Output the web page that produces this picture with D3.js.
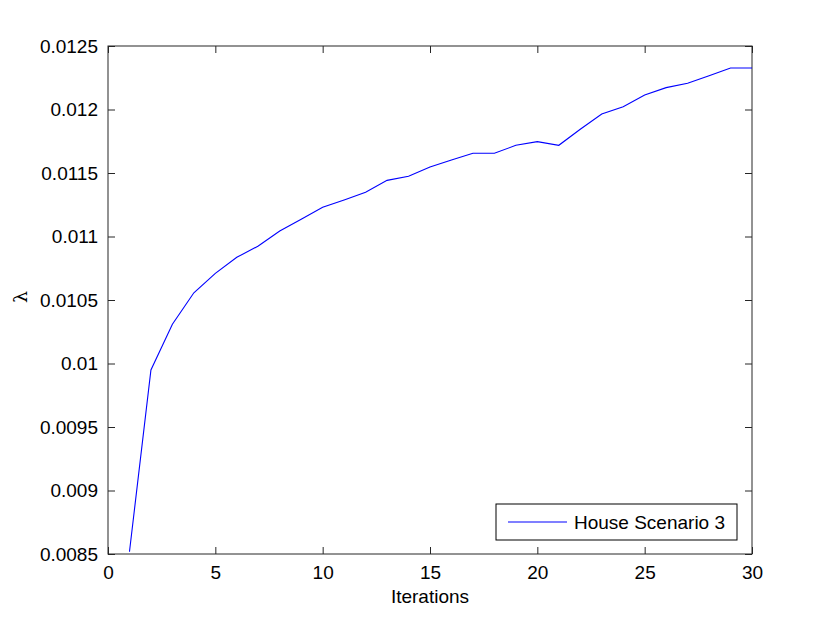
<!DOCTYPE html>
<meta charset="utf-8">
<style>
body { margin: 0; background: #fff; }
text { font-family: Arial, "Liberation Sans", sans-serif; }
</style>
<body>
<script src="https://d3js.org/d3.v7.min.js"></script>
<script>

var width = 830,
    height = 625;

// data
var iterations = d3.range(1, 31);
var lambdaValues = [0.008518, 0.009949, 0.010309, 0.010557, 0.01071, 0.010836, 0.010925, 0.011043, 0.011135, 0.01123,
                    0.011287, 0.011348, 0.011442, 0.011474, 0.011547, 0.011602, 0.011655, 0.011655, 0.011718, 0.011747,
                    0.011718, 0.011844, 0.011965, 0.012022, 0.012114, 0.012172, 0.012206, 0.012266, 0.012327, 0.012327];
var xTicks = [0, 5, 10, 15, 20, 25, 30];
var yTicks = [0.0085, 0.009, 0.0095, 0.01, 0.0105, 0.011, 0.0115, 0.012, 0.0125];
var seriesName = "House Scenario 3";

var margin = {top: 46, right: 78, bottom: 71, left: 108};
var w = width - margin.left - margin.right,
    h = height - margin.top - margin.bottom;

var svg = d3.select("body").append("svg")
    .attr("width", width)
    .attr("height", height);

var g = svg.append("g").attr("transform", "translate(" + margin.left + "," + margin.top + ")");

var x = d3.scaleLinear().domain([0, 30]).range([0, w]);
var y = d3.scaleLinear().domain([0.0085, 0.0125]).range([h, 0]);

var fmt = function(d) { return String(+d.toFixed(4)); };

// axes, ticks pointing inward, mirrored on top/right
var bottom = g.append("g").attr("transform", "translate(0," + h + ")")
    .call(d3.axisBottom(x).tickValues(xTicks).tickSizeInner(-7).tickSizeOuter(0).tickPadding(12).tickFormat(fmt));
var top = g.append("g")
    .call(d3.axisTop(x).tickValues(xTicks).tickSizeInner(-7).tickSizeOuter(0).tickFormat(""));
var left = g.append("g")
    .call(d3.axisLeft(y).tickValues(yTicks).tickSizeInner(-7).tickSizeOuter(0).tickPadding(10).tickFormat(fmt));
var right = g.append("g").attr("transform", "translate(" + w + ",0)")
    .call(d3.axisRight(y).tickValues(yTicks).tickSizeInner(-7).tickSizeOuter(0).tickFormat(""));

g.selectAll(".domain").remove();
g.selectAll(".tick line").attr("stroke", "#262626");
g.selectAll(".tick text").attr("fill", "#000").style("font-size", "19px");

g.append("rect")
    .attr("width", w).attr("height", h)
    .attr("fill", "none").attr("stroke", "#262626").attr("stroke-width", 1);

var line = d3.line()
    .x(function(d, i) { return x(iterations[i]); })
    .y(function(d) { return y(d); });

g.append("path")
    .datum(lambdaValues)
    .attr("fill", "none")
    .attr("stroke", "#0000ff")
    .attr("stroke-width", 1.1)
    .attr("d", line);

// axis labels
svg.append("text")
    .attr("x", margin.left + w / 2).attr("y", 603)
    .attr("text-anchor", "middle")
    .style("font-size", "19px")
    .text("Iterations");

svg.append("text")
    .attr("transform", "translate(27,297) rotate(-90)")
    .attr("text-anchor", "middle")
    .style("font-family", "'DejaVu Serif', serif")
    .style("font-size", "19px")
    .text("λ");

// legend
var leg = g.append("g").attr("transform", "translate(" + (w - 256) + "," + (h - 50) + ")");
leg.append("rect")
    .attr("width", 241).attr("height", 36)
    .attr("fill", "#fff").attr("stroke", "#000").attr("stroke-width", 1);
leg.append("line")
    .attr("x1", 12).attr("x2", 71).attr("y1", 18).attr("y2", 18)
    .attr("stroke", "#0000ff").attr("stroke-width", 1.1);
leg.append("text")
    .attr("x", 78).attr("y", 25)
    .style("font-size", "19px")
    .text(seriesName);

</script>
